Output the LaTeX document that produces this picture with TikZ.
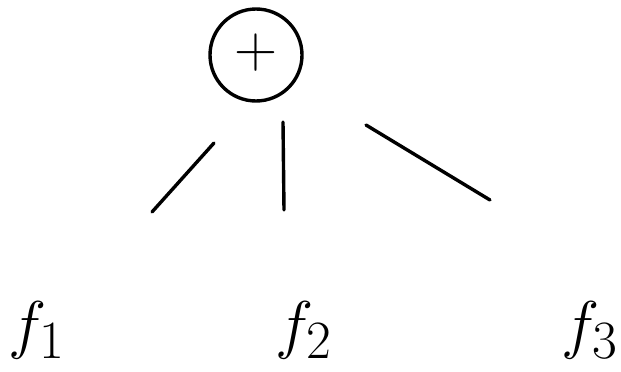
\documentclass[tikz,border=0pt]{standalone}
\usepackage{graphicx}
\usetikzlibrary{shapes.geometric}
\begin{document}
\begin{tikzpicture}[x=1pt,y=1pt,
  stroke/.style={line width=3.4pt,line cap=round,line join=round},
  opnode/.style={draw,line width=3.4pt,circle,minimum size=92pt,inner sep=0pt},
  leaf/.style={inner sep=0pt}]
\useasboundingbox (0,0) rectangle (621,-372);
\node[opnode] (plus) at (256,-55) {\raisebox{8pt}{\scalebox{2.4}{\Huge$\mathbf{+}$}}};
\node[leaf] (f1) at (37,-330) {\scalebox{2.6}{\Huge$f_1$}};
\node[leaf] (f2) at (304,-330) {\scalebox{2.6}{\Huge$f_2$}};
\node[leaf] (f3) at (590,-330) {\scalebox{2.6}{\Huge$f_3$}};
\coordinate (a1) at (214,-143);
\coordinate (a2) at (152,-212);
\coordinate (b1) at (283,-122);
\coordinate (b2) at (284,-210);
\coordinate (c1) at (366,-125);
\coordinate (c2) at (490,-200);
\draw[stroke] (a1) -- (a2);
\draw[stroke] (b1) -- (b2);
\draw[stroke] (c1) -- (c2);
\end{tikzpicture}
\end{document}
